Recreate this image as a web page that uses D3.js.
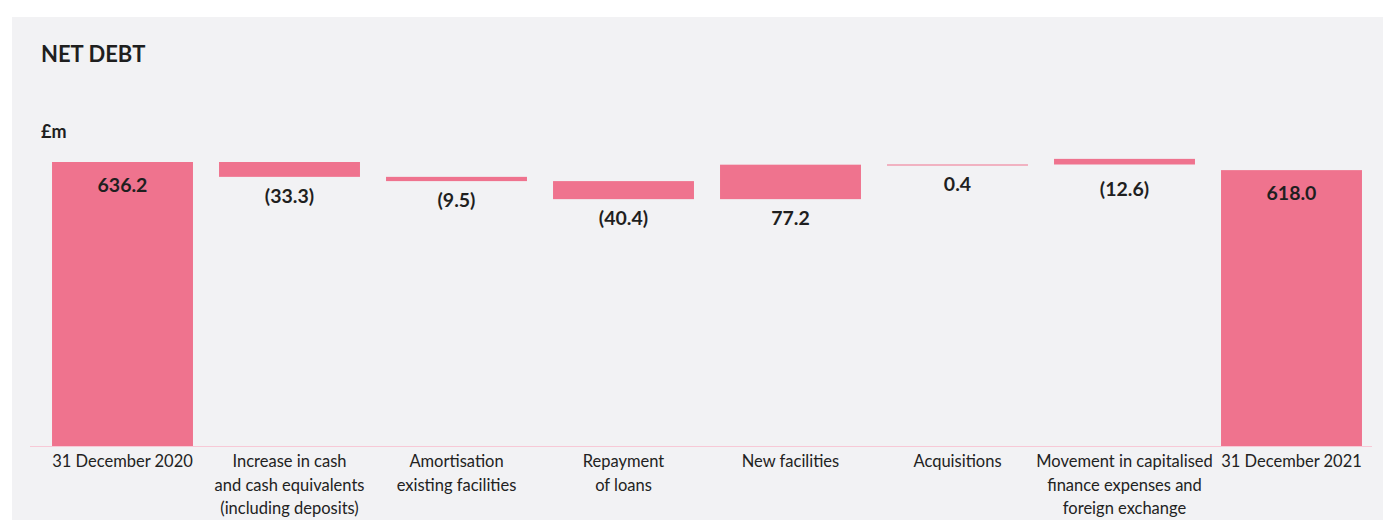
<!DOCTYPE html>
<html>
<head>
<meta charset="utf-8">
<script src="https://cdn.jsdelivr.net/npm/d3@7"></script>
<style>
  body { margin: 0; background: #fff; }
  svg text { font-family: Lato, "Open Sans", sans-serif; fill: #1f1f1f; }
</style>
</head>
<body>
<div id="chart"></div>
<script>
// waterfall data (£m)
var categories = [
  ["31 December 2020"],
  ["Increase in cash", "and cash equivalents", "(including deposits)"],
  ["Amortisation", "existing facilities"],
  ["Repayment", "of loans"],
  ["New facilities"],
  ["Acquisitions"],
  ["Movement in capitalised", "finance expenses and", "foreign exchange"],
  ["31 December 2021"]
];
var values = [636.2, -33.3, -9.5, -40.4, 77.2, 0.4, -12.6, 618.0];
var isTotal = [true, false, false, false, false, false, false, true];
var labels = ["636.2", "(33.3)", "(9.5)", "(40.4)", "77.2", "0.4", "(12.6)", "618.0"];
// the source draws the last movement bar upwards from the running total
var drawnUp = [false, false, false, false, false, false, true, false];

var w = 1385, h = 520;
var baseY = 446;

var svg = d3.select("#chart").append("svg")
  .attr("width", w).attr("height", h);

// panel background
svg.append("rect")
  .attr("x", 12).attr("y", 17)
  .attr("width", 1371).attr("height", h - 17)
  .attr("fill", "#f2f2f4");

svg.append("text")
  .attr("x", 41).attr("y", 62)
  .attr("font-size", 22).attr("font-weight", 700)
  .text("NET DEBT");

svg.append("text")
  .attr("x", 41).attr("y", 138)
  .attr("font-size", 18).attr("font-weight", 700)
  .text("£m");

var x = d3.scaleBand()
  .domain(d3.range(values.length))
  .range([39, 1375])
  .paddingInner(0.156)
  .paddingOuter(0.078);

var y = d3.scaleLinear()
  .domain([0, 636.2])
  .range([baseY, 162]);

// build bar extents
var bars = [];
var running = 0;
values.forEach(function(v, i) {
  var lo, hi, labelLevel;
  if (isTotal[i]) {
    lo = 0; hi = v; running = v;
    bars.push({i: i, lo: lo, hi: hi, total: true});
    return;
  }
  var start = running, end = running + v;
  if (drawnUp[i]) {
    lo = start; hi = start + Math.abs(v);
  } else {
    lo = Math.min(start, end); hi = Math.max(start, end);
  }
  labelLevel = Math.min(start, end);
  running = end;
  bars.push({i: i, lo: lo, hi: hi, total: false, labelLevel: labelLevel});
});

// baseline
svg.append("line")
  .attr("x1", 30).attr("x2", 1372)
  .attr("y1", baseY + 0.5).attr("y2", baseY + 0.5)
  .attr("stroke", "#f7c9d6").attr("stroke-width", 1);

svg.selectAll(".bar")
  .data(bars)
  .enter()
  .append("rect")
  .attr("class", "bar")
  .attr("x", function(d){ return x(d.i); })
  .attr("width", x.bandwidth())
  .attr("y", function(d){ return y(d.hi); })
  .attr("height", function(d){ return Math.max(1, y(d.lo) - y(d.hi)); })
  .attr("fill", "#ef738e");

svg.selectAll(".val")
  .data(bars)
  .enter()
  .append("text")
  .attr("class", "val")
  .attr("x", function(d){ return x(d.i) + x.bandwidth() / 2; })
  .attr("y", function(d){
    if (d.total) return y(d.hi) + 30;
    return y(d.labelLevel) + 26;
  })
  .attr("text-anchor", "middle")
  .attr("font-size", 19.5).attr("font-weight", 700)
  .text(function(d){ return labels[d.i]; });

var cat = svg.selectAll(".cat")
  .data(categories)
  .enter()
  .append("text")
  .attr("class", "cat")
  .attr("text-anchor", "middle")
  .attr("font-size", 16.5)
  .style("fill", "#222")
  .attr("transform", function(d, i){
    return "translate(" + (x(i) + x.bandwidth() / 2) + ",467)";
  });

cat.selectAll("tspan")
  .data(function(d){ return d; })
  .enter()
  .append("tspan")
  .attr("x", 0)
  .attr("dy", function(d, j){ return j === 0 ? 0 : 23.5; })
  .text(function(d){ return d; });
</script>
</body>
</html>
